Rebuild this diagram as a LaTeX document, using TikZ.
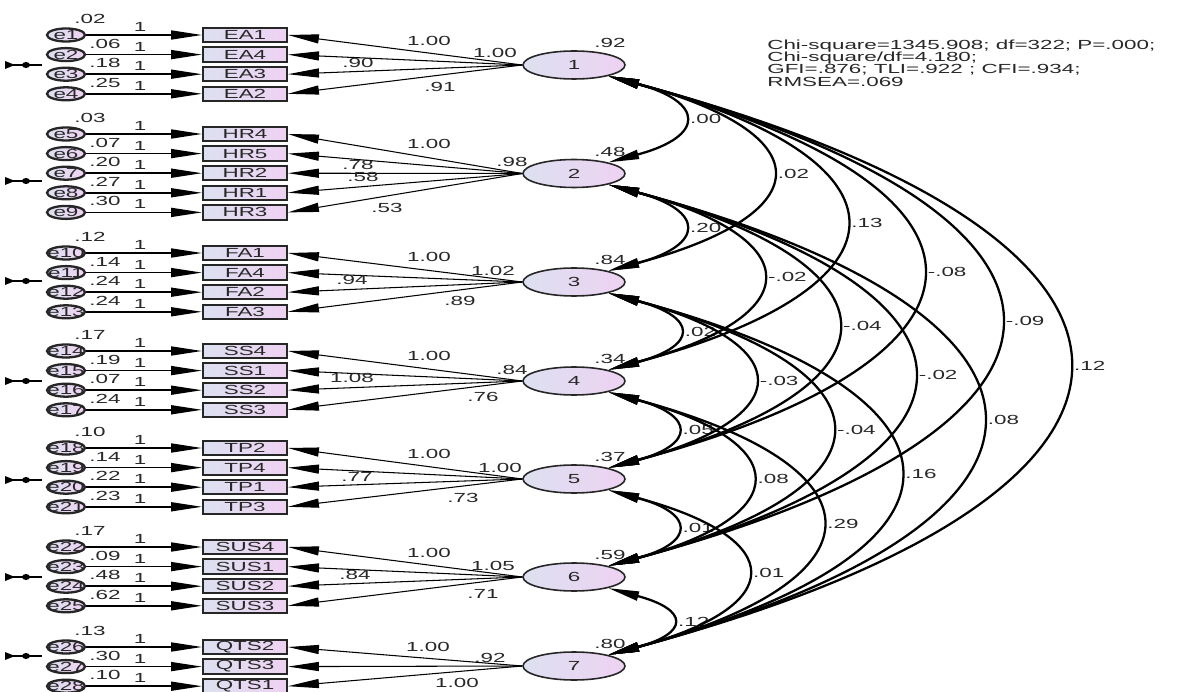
\documentclass[tikz,border=0pt]{standalone}
\usepackage{fontspec}
\newfontfamily\amos[FakeStretch=1.7]{Liberation Sans}
\usetikzlibrary{shapes.geometric,arrows.meta,calc}
\definecolor{fillL}{RGB}{221,224,240}
\definecolor{fillR}{RGB}{238,210,242}
\definecolor{ink}{RGB}{40,40,40}
\newcommand\covarc[4]{%
  \draw[cov] (L#1.-18) .. controls +(#3,{0.268*#3}) and +(#3,{-0.268*#3}) .. (L#2.18)
    node[lab, midway, anchor=west, xshift=0.16cm] (c#1#2) {#4};}
\begin{document}
\begin{tikzpicture}[x=0.02cm,y=-0.02cm,
  >={Triangle[length=0.62cm,width=0.18cm]},
  txt/.style={font=\amos\fontsize{7.5}{8.5}\selectfont, text=ink},
  lab/.style={txt, inner sep=0pt},
  obs/.style={draw=black!85, line width=1.1pt, left color=fillL, right color=fillR,
    minimum width=1.68cm, minimum height=0.29cm, inner sep=0pt, txt},
  err/.style={ellipse, draw=black!85, line width=1.3pt, left color=fillL, right color=fillR,
    minimum width=0.76cm, minimum height=0.26cm, inner sep=0pt},
  lat/.style={ellipse, draw=black!85, line width=0.9pt, left color=fillL, right color=fillR,
    minimum width=2.04cm, minimum height=0.56cm, inner sep=0pt, txt},
  ebox/.style={->, line width=0.9pt},
  load/.style={->, line width=0.6pt},
  cov/.style={<->, line width=1.3pt}]
\useasboundingbox (0,0) rectangle (1186,692);
\fill[white] (0,0) rectangle (1186,692);

% latent factors
\foreach \i/\yy/\vv in {1/65/.92, 2/173.5/.48, 3/282/.84, 4/381/.34, 5/479/.37, 6/577/.59, 7/666/.80}{
  \node[lat] (L\i) at (574,\yy) {\i};
  \node[lab] (vL\i) at (610,{\yy-22}) {\vv};
}

% indicators and errors
\foreach \b/\e/\y/\v/\vx/\vd/\L in {
  EA1/e1/35/.02/90/16/1, EA4/e2/54.6/.06/105/11/1, EA3/e3/74.2/.18/105/11/1, EA2/e4/93.8/.25/105/11/1,
  HR4/e5/134/.03/90/16/2, HR5/e6/153.6/.07/105/11/2, HR2/e7/173.2/.20/105/11/2, HR1/e8/192.8/.27/105/11/2, HR3/e9/212.4/.30/105/11/2,
  FA1/e10/253/.12/90/16/3, FA4/e11/272.6/.14/105/11/3, FA2/e12/292.2/.24/105/11/3, FA3/e13/311.8/.24/105/11/3,
  SS4/e14/351/.17/90/16/4, SS1/e15/370.6/.19/105/11/4, SS2/e16/390.2/.07/105/11/4, SS3/e17/409.8/.24/105/11/4,
  TP2/e18/448/.10/90/16/5, TP4/e19/467.6/.14/105/11/5, TP1/e20/487.2/.22/105/11/5, TP3/e21/506.8/.23/105/11/5,
  SUS4/e22/547/.17/90/16/6, SUS1/e23/566.6/.09/105/11/6, SUS2/e24/586.2/.48/105/11/6, SUS3/e25/605.8/.62/105/11/6,
  QTS2/e26/647/.13/90/16/7, QTS3/e27/666.6/.30/105/11/7, QTS1/e28/686.2/.10/105/11/7}{
  \node[err] (\e) at (66,\y) {};
  \node[lab] (t\e) at (\e) {\e};
  \node[obs] (\b) at (245,\y) {\b};
  \draw[ebox] (\e) -- (\b);
  \draw[load] (L\L.west) -- (\b.east);
  \node[lab] (v\e) at (\vx,{\y-\vd}) {\v};
  \node[lab] (one\e) at (140,{\y-8}) {1};
}

% loading labels
\foreach \n/\x/\y/\t in {a1/429/41/1.00, a2/495/53/1.00, a3/358/63/.90, a4/440/87/.91,
  b1/429/144/1.00, b2/512/162/.98, b3/358/165/.78, b4/363/177/.58, b5/387/208/.53,
  c1/429/257/1.00, c2/493/271/1.02, c3/352/280/.94, c4/460/301/.89,
  d1/429/356/1.00, d2/512/370/.84, d3/352/378/1.08, d4/483/397/.76,
  f1/429/454/1.00, f2/500/468/1.00, f3/357/477/.77, f4/463/498/.73,
  g1/429/553/1.00, g2/493/566/1.05, g3/355/575/.84, g4/483/594/.71,
  h1/428/647/1.00, h2/490/658/.92, h3/457/683/1.00}{
  \node[lab] (ld\n) at (\x,\y) {\t};
}

% covariances
\covarc{1}{2}{97}{.00}
\covarc{2}{3}{97}{.20}
\covarc{3}{4}{90}{.02}
\covarc{4}{5}{87}{.05}
\covarc{5}{6}{87}{.01}
\covarc{6}{7}{81}{.12}
\covarc{1}{3}{214}{.02}
\covarc{2}{4}{201}{-.02}
\covarc{3}{5}{190}{-.03}
\covarc{4}{6}{187}{.08}
\covarc{5}{7}{181}{.01}
\covarc{1}{4}{312}{.13}
\covarc{2}{5}{301}{-.04}
\covarc{3}{6}{293}{-.04}
\covarc{4}{7}{280}{.29}
\covarc{1}{5}{414}{-.08}
\covarc{2}{6}{402}{-.02}
\covarc{3}{7}{384}{.16}
\covarc{1}{6}{518}{-.09}
\covarc{2}{7}{494}{.08}
\covarc{1}{7}{609}{.12}

% fit statistics
\node[lab, anchor=west] (fit1) at (767,46) {Chi-square=1345.908; df=322; P=.000;};
\node[lab, anchor=west] (fit2) at (767,58) {Chi-square/df=4.180;};
\node[lab, anchor=west] (fit3) at (767,70) {GFI=.876; TLI=.922 ; CFI=.934;};
\node[lab, anchor=west] (fit4) at (767,82) {RMSEA=.069};

% cut-off marks at the left edge
\foreach \y in {65,181,281,381,480,577,656}{
  \draw[line width=1.1pt] (5,\y) -- (42,\y);
  \fill (5,{\y-4}) -- (15,\y) -- (5,{\y+4}) -- cycle;
  \fill (26,\y) ellipse [x radius=0.08cm, y radius=0.06cm];
}
\end{tikzpicture}
\end{document}
